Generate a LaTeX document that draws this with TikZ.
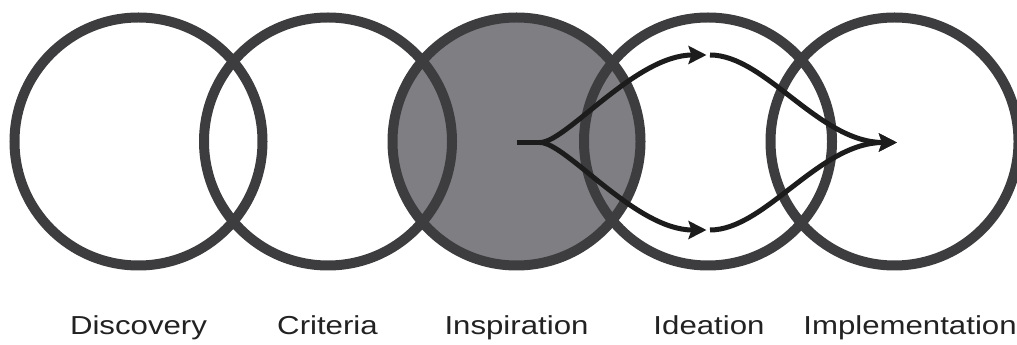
\documentclass[tikz,border=0pt]{standalone}
\usepackage{fontspec}
\setmainfont{Liberation Sans}
\usetikzlibrary{arrows.meta}
\definecolor{ringcol}{HTML}{3D3D3F}
\definecolor{inspfill}{HTML}{7F7F83}
\definecolor{arrowcol}{HTML}{1C1C1C}
\definecolor{labcol}{HTML}{222222}
\tikzset{
  ring/.style={circle, draw=ringcol, line width=10pt, minimum size=248pt, inner sep=0pt},
  lab/.style={anchor=base, text=labcol, inner sep=0pt, font=\fontsize{26}{31}\selectfont},
  flow/.style={draw=arrowcol, line width=5pt},
  flowtip/.style={flow, -{Stealth[length=18pt,width=18pt,inset=3pt]}}
}
\begin{document}
\begin{tikzpicture}[x=1pt,y=1pt]
\useasboundingbox (0,0) rectangle (1017,345);
% circles (filled one first so all strokes stay on top of the fill)
\node[ring, fill=inspfill] (insp) at (516.5,203.5) {};
\node[ring] (disc) at (138.5,203.5) {};
\node[ring] (crit) at (328,203.5) {};
\node[ring] (idea) at (708,203.5) {};
\node[ring] (impl) at (894.5,203.5) {};
% labels
\node[lab] (ldisc) at (138.5,10) {\scalebox{1.2}[1]{Discovery}};
\node[lab] (lcrit) at (327.5,10) {\scalebox{1.2}[1]{Criteria}};
\node[lab] (linsp) at (516.5,10) {\scalebox{1.2}[1]{Inspiration}};
\node[lab] (lidea) at (709,10) {\scalebox{1.2}[1]{Ideation}};
\node[lab] (limpl) at (910,10) {\scalebox{1.2}[1]{Implementation}};
% arrow waypoints
\coordinate (start) at (516.5,202.5);
\coordinate (cusp) at (540,202.5);
\coordinate (up1) at (706.5,290);
\coordinate (up2) at (710,290);
\coordinate (lo1) at (706.5,115);
\coordinate (lo2) at (710,115);
\coordinate (tip) at (897,202.5);
% arrows
\draw[flow] (start) -- (cusp);
\draw[flowtip] (cusp) .. controls +(26,0) and +(-71,0) .. (up1);
\draw[flowtip] (cusp) .. controls +(26,0) and +(-71,0) .. (lo1);
\draw[flowtip] (up2) .. controls +(55,0) and +(-78,0) .. (tip);
\draw[flowtip] (lo2) .. controls +(55,0) and +(-78,0) .. (tip);
\end{tikzpicture}
\end{document}
